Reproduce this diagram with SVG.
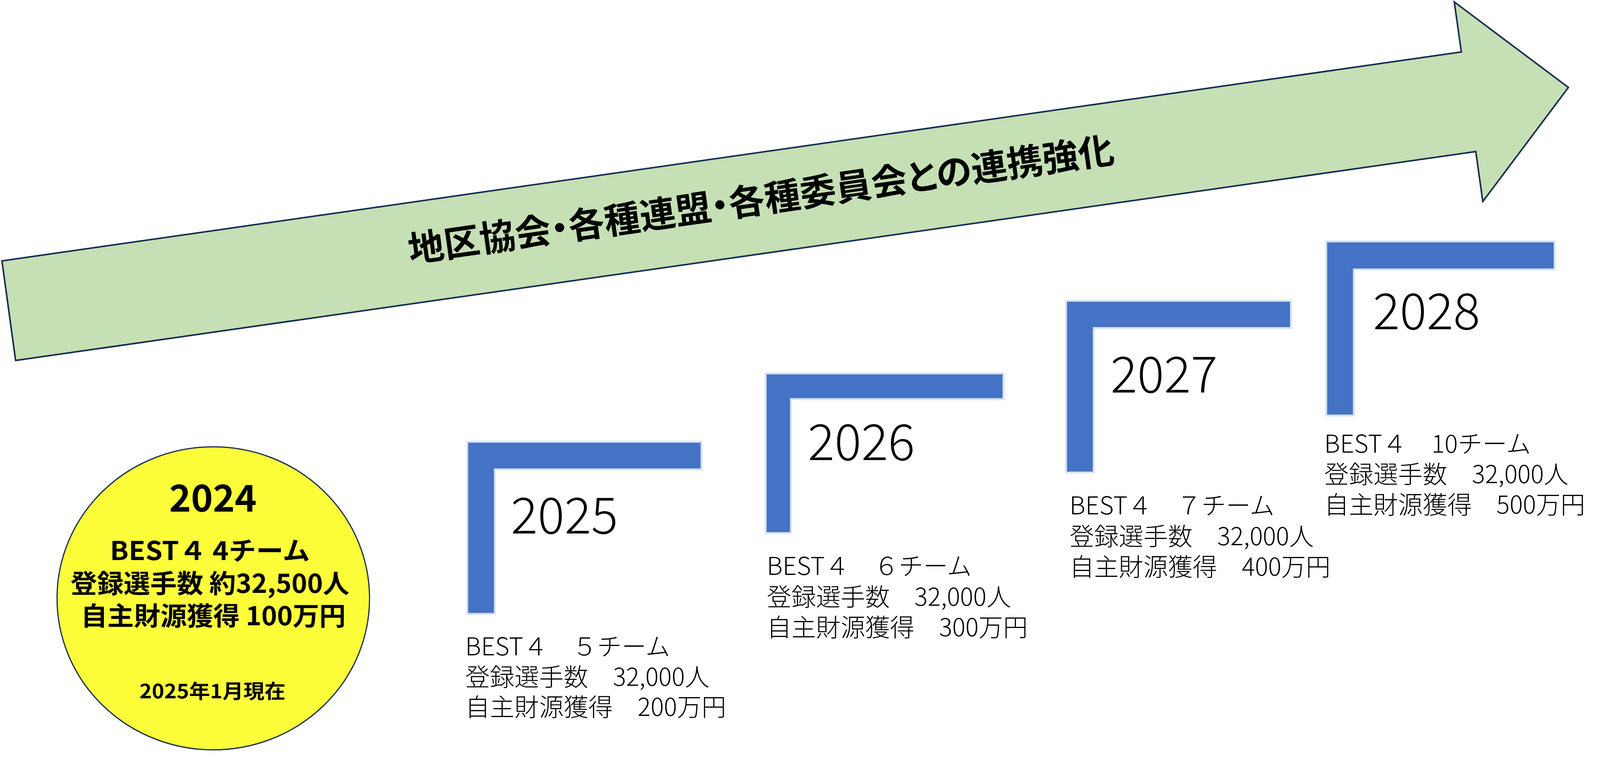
<svg xmlns="http://www.w3.org/2000/svg" width="4215" height="1969" viewBox="0 0 4215 1969">
  <style>
    .jp { font-family: "Noto Sans CJK JP", "Noto Sans", sans-serif; fill: #000; }
    .bold { font-weight: 700; }
    .year { font-size: 128px; font-weight: 300; }
    .info { font-size: 63px; font-weight: 300; }
    .step { fill: #4472C4; stroke: #DAE3F3; stroke-width: 5; }
    .arrow { fill: #C5E0B4; stroke: #172C51; stroke-width: 4; stroke-linejoin: miter; }
    .badge { fill: #FDFE3A; stroke: #172C51; stroke-width: 3; }
  </style>
  <rect width="4215" height="1969" fill="#FFFFFF"/>

  <g id="arrow">
    <polygon class="arrow" points="5,668 3741,133 3723,5 4015,224 3796,516 3778,388 40,923"/>
    <text class="jp bold" font-size="92" text-anchor="middle" transform="translate(1953,544) rotate(-8.1)" style="font-feature-settings:'palt'" textLength="1824" lengthAdjust="spacing">地区協会・各種連盟・各種委員会との連携強化</text>
  </g>

  <g id="node-2024">
    <ellipse class="badge" cx="546" cy="1532" rx="400" ry="388"/>
    <text class="jp bold" x="545" y="1310" font-size="95" text-anchor="middle">2024</text>
    <text class="jp bold" font-size="66" text-anchor="middle">
      <tspan x="545" y="1434" textLength="512" lengthAdjust="spacingAndGlyphs">BEST４ 4チーム</tspan>
      <tspan x="545" y="1518" textLength="714" lengthAdjust="spacingAndGlyphs">登録選手数 約32,500人</tspan>
      <tspan x="546" y="1601" textLength="678" lengthAdjust="spacingAndGlyphs">自主財源獲得 100万円</tspan>
    </text>
    <text class="jp bold" x="544" y="1788" font-size="50" text-anchor="middle" textLength="374" lengthAdjust="spacingAndGlyphs">2025年1月現在</text>
  </g>

  <g id="node-2025">
    <path class="step" d="M1196,1131 H1796 V1202 H1267 V1572 H1196 Z"/>
    <text class="jp year" x="1308" y="1366">2025</text>
    <text class="jp info">
      <tspan x="1191" y="1678">BEST４　５チーム</tspan>
      <tspan x="1191" y="1756">登録選手数　32,000人</tspan>
      <tspan x="1191" y="1833">自主財源獲得　200万円</tspan>
    </text>
  </g>

  <g id="node-2026">
    <path class="step" d="M1960,956 H2569 V1022 H2025 V1365 H1960 Z"/>
    <text class="jp year" x="2068" y="1178">2026</text>
    <text class="jp info">
      <tspan x="1963" y="1472">BEST４　６チーム</tspan>
      <tspan x="1963" y="1551">登録選手数　32,000人</tspan>
      <tspan x="1963" y="1629">自主財源獲得　300万円</tspan>
    </text>
  </g>

  <g id="node-2027">
    <path class="step" d="M2729,770 H3305 V840 H2800 V1210 H2729 Z"/>
    <text class="jp year" x="2843" y="1005">2027</text>
    <text class="jp info">
      <tspan x="2738" y="1317">BEST４　７チーム</tspan>
      <tspan x="2738" y="1396">登録選手数　32,000人</tspan>
      <tspan x="2738" y="1474">自主財源獲得　400万円</tspan>
    </text>
  </g>

  <g id="node-2028">
    <path class="step" d="M3395,618 H3980 V690 H3466 V1064 H3395 Z"/>
    <text class="jp year" x="3515" y="843">2028</text>
    <text class="jp info">
      <tspan x="3390" y="1159">BEST４　10チーム</tspan>
      <tspan x="3390" y="1237">登録選手数　32,000人</tspan>
      <tspan x="3390" y="1315">自主財源獲得　500万円</tspan>
    </text>
  </g>

  <g id="connectors"></g>
</svg>
